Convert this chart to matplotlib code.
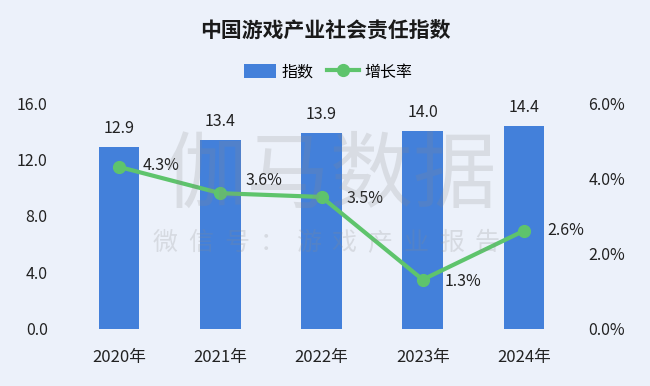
import matplotlib.pyplot as plt
from matplotlib.ticker import FuncFormatter

plt.rcParams['font.family'] = ['Noto Sans CJK SC', 'DejaVu Sans']

years = ['2020年', '2021年', '2022年', '2023年', '2024年']
index_vals = [12.9, 13.4, 13.9, 14.0, 14.4]
growth = [4.3, 3.6, 3.5, 1.3, 2.6]
# label offsets for the growth labels (points)
growth_offsets = [(17, 1), (18, 9), (18, -1), (16, -1), (17, 0)]

bg = '#ECF1FA'
bar_c = '#4380DA'
line_c = '#5EC46C'

fig = plt.figure(figsize=(6.5, 3.86), dpi=100, facecolor=bg)

ax = fig.add_axes([68.5 / 650, 1 - 328.5 / 386, 506 / 650, 225.5 / 386])
ax.set_facecolor('none')
x = range(len(years))
ax.bar(x, index_vals, width=0.4, color=bar_c, label='指数', zorder=2)
ax.set_xlim(-0.5, 4.5)
ax.set_ylim(0, 16)
ax.set_yticks([0, 4, 8, 12, 16])
ax.yaxis.set_major_formatter(FuncFormatter(lambda v, p: '%.1f' % v))
ax.set_xticks(list(x))
ax.set_xticklabels(years)
for v_x, v in zip(x, index_vals):
    ax.annotate('%.1f' % v, (v_x, v), xytext=(0, 7), textcoords='offset points',
                ha='center', va='bottom', fontsize=11.5, color='#222222')

ax2 = ax.twinx()
ax2.set_facecolor('none')
ax2.plot(x, growth, color=line_c, lw=3, marker='o', ms=8.5, label='增长率', zorder=3)
ax2.set_ylim(0, 6)
ax2.set_yticks([0, 2, 4, 6])
ax2.yaxis.set_major_formatter(FuncFormatter(lambda v, p: '%.1f%%' % v))
for v_x, v, off in zip(x, growth, growth_offsets):
    ax2.annotate('%.1f%%' % v, (v_x, v), xytext=off, textcoords='offset points',
                 ha='left', va='center', fontsize=11.5, color='#222222')

for a in (ax, ax2):
    for s in a.spines.values():
        s.set_visible(False)
    a.tick_params(length=0, labelsize=11.5, colors='#222222')
ax.tick_params(axis='y', pad=15)
ax2.tick_params(axis='y', pad=10)
ax.tick_params(axis='x', pad=15, labelsize=12)

# watermark, faint, over the plot
fig.text(330 / 650, 1 - 176 / 386, '伽马数据', fontsize=60, color='#8a8a8a', alpha=0.2,
         ha='center', va='center', zorder=5)
wm = '微信号：游戏产业报告'
for i, ch in enumerate(wm):
    fig.text((165 + i * 35.8) / 650, 1 - 243 / 386, ch, fontsize=18, color='#8a8a8a',
             alpha=0.22, ha='center', va='center', zorder=5)

fig.text(0.5, 1 - 30 / 386, '中国游戏产业社会责任指数', fontsize=15, fontweight='bold',
         ha='center', va='center', color='#1a1a1a')
h1, l1 = ax.get_legend_handles_labels()
h2, l2 = ax2.get_legend_handles_labels()
fig.legend(h1 + h2, l1 + l2, loc='center', bbox_to_anchor=(0.505, 1 - 72 / 386), ncol=2,
           frameon=False, fontsize=11.5, handlelength=2.0, handleheight=0.9, columnspacing=0.9,
           handletextpad=0.3)

fig.savefig('out.png', dpi=100, facecolor=bg)
